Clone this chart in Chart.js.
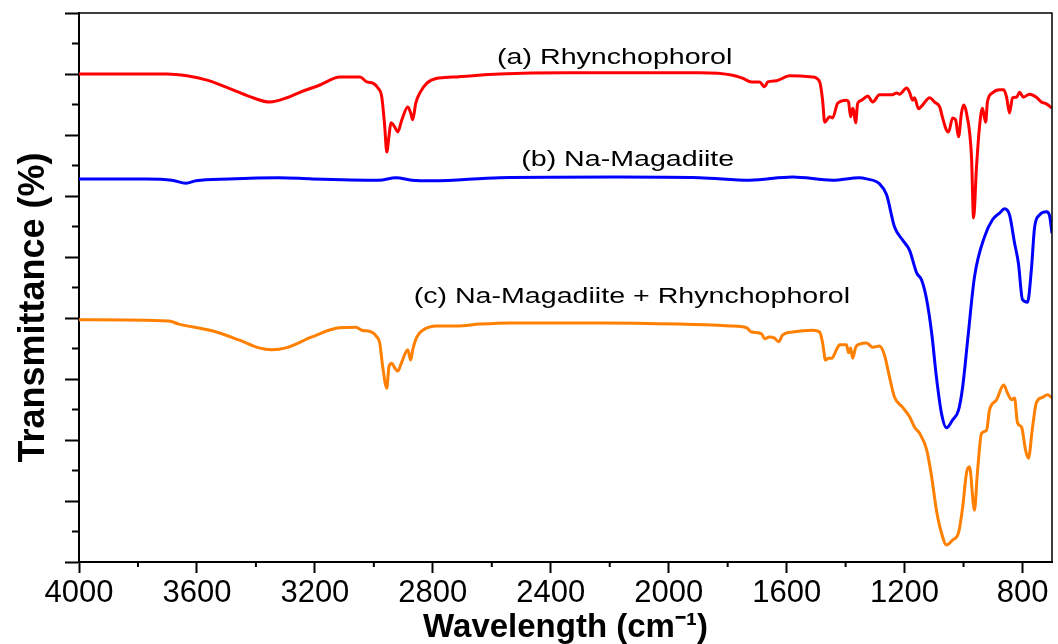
<!DOCTYPE html>
<html>
<head>
    <title>FTIR spectra</title>
    <script src="https://cdn.jsdelivr.net/npm/chart.js"></script>
    <style>
        html, body {
            margin: 0;
            padding: 0;
            background: #fff;
        }
    </style>
</head>
<body>
<canvas id="ftir-chart" width="1058" height="644"></canvas>

<script>
    // (a) Rhynchophorol - wavenumber (cm-1) / transmittance (a.u.)
    const waveA = [4000, 3702, 3634, 3566, 3478, 3410, 3353, 3295, 3251, 3183, 3115, 3047, 3024, 3003, 2986, 2973,
        2963, 2956, 2949, 2942, 2929, 2919, 2905, 2885, 2875, 2868, 2858, 2844, 2820, 2786, 2732, 2573, 2346, 2122,
        1895, 1783, 1749, 1719, 1692, 1675, 1664, 1634, 1590, 1512, 1488, 1478, 1471, 1454, 1444, 1427, 1397, 1390,
        1383, 1376, 1373, 1366, 1359, 1346, 1325, 1308, 1285, 1241, 1227, 1217, 1193, 1183, 1173, 1166, 1153, 1139,
        1115, 1098, 1081, 1071, 1058, 1051, 1037, 1027, 1017, 1007, 1000, 990, 973, 966, 956, 946, 936, 925, 919,
        902, 878, 864, 854, 844, 834, 820, 810, 797, 776, 753, 736, 719, 700];
    const transA = [80.0, 80.0, 79.7, 79.0, 77.4, 76.1, 75.4, 76.1, 77.0, 78.2, 79.5, 79.5, 78.7, 78.5, 77.7, 76.2,
        71.3, 67.2, 69.7, 72.0, 71.3, 70.5, 72.5, 74.6, 73.6, 72.5, 75.2, 76.9, 78.5, 79.3, 79.5, 80.0, 80.2, 80.2,
        80.2, 79.8, 79.3, 78.7, 78.7, 77.9, 78.7, 78.9, 79.7, 79.5, 78.7, 75.7, 72.1, 73.0, 72.8, 75.2, 75.7, 75.4,
        73.0, 74.4, 74.1, 72.0, 75.2, 75.7, 76.4, 75.4, 76.6, 76.6, 76.9, 76.7, 77.7, 77.0, 75.7, 76.1, 74.3, 74.9,
        76.1, 75.4, 74.6, 72.8, 70.8, 70.5, 72.8, 72.5, 69.7, 73.6, 74.9, 73.6, 66.4, 56.4, 64.8, 71.3, 74.4, 72.1, 75.4,
        76.9, 77.4, 77.4, 76.2, 73.6, 76.1, 76.2, 77.0, 76.2, 76.7, 76.2, 75.4, 75.1, 74.4];

    // (b) Na-Magadiite
    const waveB = [4000, 3773, 3685, 3637, 3603, 3492, 3322, 3210, 2983, 2925, 2871, 2800, 2573, 2176, 1895, 1725,
        1580, 1444, 1353, 1329, 1285, 1261, 1234, 1207, 1183, 1159, 1142, 1125, 1108, 1092, 1075, 1058, 1037, 1017,
        1003, 986, 963, 929, 902, 878, 861, 844, 827, 814, 800, 783, 770, 759, 742, 719, 709, 700];
    const transB = [62.8, 62.8, 62.6, 62.1, 62.5, 62.8, 63.0, 62.8, 62.6, 63.0, 62.6, 62.5, 63.0, 63.1, 63.0, 62.6,
        63.1, 62.6, 63.0, 62.8, 62.0, 60.2, 54.9, 52.8, 51.1, 47.4, 46.2, 43.0, 37.5, 30.3, 24.4, 22.0, 23.3, 24.9,
        28.7, 36.4, 46.7, 53.3, 56.1, 57.2, 57.9, 56.9, 52.3, 49.0, 43.0, 42.6, 47.9, 54.9, 56.9, 57.4, 56.9, 53.9];

    // (c) Na-Magadiite + Rhynchophorol
    const waveC = [4000, 3695, 3661, 3549, 3458, 3390, 3346, 3298, 3210, 3119, 3061, 3041, 3007, 2990, 2980, 2970,
        2956, 2949, 2939, 2929, 2919, 2905, 2885, 2875, 2868, 2854, 2834, 2786, 2719, 2641, 2539, 2234, 1963, 1793,
        1736, 1719, 1685, 1675, 1658, 1641, 1627, 1614, 1580, 1512, 1488, 1478, 1468, 1458, 1447, 1431, 1420, 1397,
        1390, 1383, 1376, 1366, 1353, 1329, 1308, 1285, 1268, 1251, 1234, 1207, 1183, 1166, 1149, 1125, 1108, 1092,
        1075, 1058, 1037, 1017, 1003, 990, 980, 963, 953, 939, 922, 912, 888, 864, 851, 837, 827, 817, 803, 790, 780,
        766, 753, 732, 715, 700];
    const transC = [39.7, 39.5, 39.0, 37.9, 36.4, 35.1, 34.8, 35.1, 36.9, 38.4, 38.5, 38.0, 37.7, 36.9, 35.9, 32.0,
        28.5, 32.0, 32.6, 31.8, 31.3, 32.8, 34.8, 33.1, 34.8, 36.9, 38.0, 38.7, 38.7, 39.0, 39.2, 39.2, 39.0, 38.7,
        38.4, 37.7, 37.4, 36.6, 36.9, 36.7, 36.1, 37.2, 37.7, 38.0, 37.7, 35.9, 33.1, 33.4, 33.4, 34.8, 35.6, 35.6,
        34.3, 35.1, 33.4, 35.2, 35.7, 35.9, 35.2, 35.4, 33.9, 30.3, 27.0, 25.4, 23.8, 22.1, 21.1, 18.4, 13.9, 8.5,
        4.8, 2.8, 3.6, 4.8, 9.0, 14.6, 15.6, 8.5, 14.6, 21.1, 21.6, 24.9, 26.6, 29.0, 27.7, 26.6, 26.9, 22.8, 22.1, 18.4, 17.0,
        22.1, 26.1, 27.0, 27.4, 26.9];

    const xTickValues = [4000, 3600, 3200, 2800, 2400, 2000, 1600, 1200, 800];
    const xMinorValues = [3800, 3400, 3000, 2600, 2200, 1800, 1400, 1000];
    const yMinorValues = [5, 15, 25, 35, 45, 55, 65, 75, 85];

    const seriesNames = ['(a) Rhynchophorol', '(b) Na-Magadiite', '(c) Na-Magadiite + Rhynchophorol'];
    const nameWave = [2183, 2139, 2125];
    const nameTrans = [82.6, 65.9, 43.4];

    function toPoints(xs, ys) {
        return xs.map((x, i) => ({x: x, y: ys[i]}));
    }

    // frame on top/right, minor ticks and curve names
    const extras = {
        id: 'extras',
        afterDraw(chart) {
            const ctx = chart.ctx;
            const a = chart.chartArea;
            const x = chart.scales.x;
            const y = chart.scales.y;
            ctx.save();
            ctx.strokeStyle = '#000';
            ctx.lineWidth = 1.5;
            ctx.beginPath();
            ctx.moveTo(a.left, a.top);
            ctx.lineTo(a.right, a.top);
            ctx.lineTo(a.right, a.bottom);
            ctx.stroke();

            ctx.lineWidth = 2;
            ctx.beginPath();
            xMinorValues.forEach(v => {
                const px = x.getPixelForValue(v);
                ctx.moveTo(px, a.bottom);
                ctx.lineTo(px, a.bottom + 5);
            });
            yMinorValues.forEach(v => {
                const py = y.getPixelForValue(v);
                ctx.moveTo(a.left - 7, py);
                ctx.lineTo(a.left, py);
            });
            ctx.stroke();

            ctx.fillStyle = '#000';
            ctx.font = '22px Arial, "Liberation Sans", sans-serif';
            ctx.textAlign = 'center';
            ctx.textBaseline = 'middle';
            seriesNames.forEach((t, i) => {
                ctx.save();
                ctx.translate(x.getPixelForValue(nameWave[i]), y.getPixelForValue(nameTrans[i]));
                ctx.scale(1.3, 1);
                ctx.fillText(t, 0, 0);
                ctx.restore();
            });
            ctx.restore();
        }
    };

    const ctx = document.getElementById('ftir-chart').getContext('2d');
    const chart = new Chart(ctx, {
        type: 'line',
        data: {
            datasets: [{
                label: seriesNames[0],
                data: toPoints(waveA, transA),
                borderColor: 'rgb(255, 0, 0)',
                borderWidth: 3,
                pointRadius: 0,
                fill: false,
                cubicInterpolationMode: 'monotone'
            }, {
                label: seriesNames[1],
                data: toPoints(waveB, transB),
                borderColor: 'rgb(0, 0, 255)',
                borderWidth: 3,
                pointRadius: 0,
                fill: false,
                cubicInterpolationMode: 'monotone'
            }, {
                label: seriesNames[2],
                data: toPoints(waveC, transC),
                borderColor: 'rgb(255, 128, 0)',
                borderWidth: 3,
                pointRadius: 0,
                fill: false,
                cubicInterpolationMode: 'monotone'
            }]
        },
        options: {
            responsive: false,
            animation: false,
            layout: {
                padding: {top: 13, right: 6, left: 0, bottom: 0}
            },
            plugins: {
                legend: {display: false},
                tooltip: {enabled: false}
            },
            scales: {
                x: {
                    type: 'linear',
                    reverse: true,
                    min: 700,
                    max: 4000,
                    afterBuildTicks: function (scale) {
                        scale.ticks = xTickValues.map(v => ({value: v}));
                    },
                    afterFit: function (scale) {
                        scale.height = 82;
                    },
                    ticks: {
                        autoSkip: false,
                        maxRotation: 0,
                        padding: 2,
                        color: '#000',
                        callback: function (value) {
                            return String(value);
                        },
                        font: {family: 'Arial, "Liberation Sans", sans-serif', size: 31}
                    },
                    grid: {
                        drawOnChartArea: false,
                        drawTicks: true,
                        tickLength: 11,
                        tickWidth: 2,
                        tickColor: '#000'
                    },
                    border: {color: '#000', width: 2},
                    title: {
                        display: true,
                        text: 'Wavelength (cm\u207B\u00B9)',
                        color: '#000',
                        padding: {top: 0, bottom: 0},
                        font: {family: 'Arial, "Liberation Sans", sans-serif', size: 33, weight: 'bold', lineHeight: 1}
                    }
                },
                y: {
                    min: 0,
                    max: 90,
                    afterFit: function (scale) {
                        scale.width = 79;
                    },
                    ticks: {
                        stepSize: 10,
                        display: false
                    },
                    grid: {
                        drawOnChartArea: false,
                        drawTicks: true,
                        tickLength: 14,
                        tickWidth: 2,
                        tickColor: '#000'
                    },
                    border: {color: '#000', width: 2},
                    title: {
                        display: true,
                        text: 'Transmittance (%)    ',
                        color: '#000',
                        padding: {top: 16, bottom: 0},
                        font: {family: 'Arial, "Liberation Sans", sans-serif', size: 36, weight: 'bold', lineHeight: 1}
                    }
                }
            }
        },
        plugins: [extras]
    });
</script>
</body>
</html>
